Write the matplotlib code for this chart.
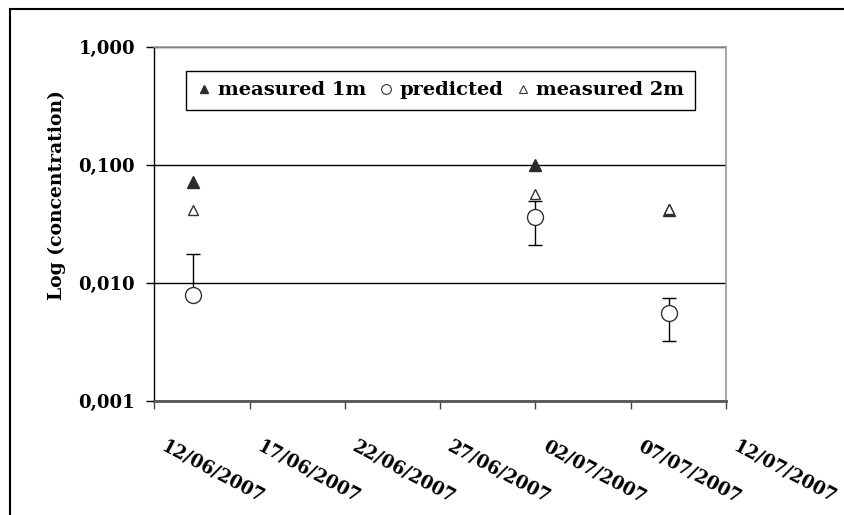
import datetime as dt
import matplotlib
matplotlib.use("Agg")
import matplotlib.pyplot as plt
import matplotlib.transforms as mtrans
from matplotlib.lines import Line2D

# sampling days
dates = [dt.datetime(2007, 6, 14), dt.datetime(2007, 7, 2), dt.datetime(2007, 7, 9)]
measured_1m = [0.071, 0.100, 0.041]
measured_2m = [0.041, 0.056, 0.042]
predicted = [0.0078, 0.036, 0.0055]
pred_upper = [0.0175, 0.049, 0.0074]
pred_lower = [None, 0.021, 0.0032]

tick_dates = [dt.datetime(2007, 6, 12), dt.datetime(2007, 6, 17), dt.datetime(2007, 6, 22),
              dt.datetime(2007, 6, 27), dt.datetime(2007, 7, 2), dt.datetime(2007, 7, 7),
              dt.datetime(2007, 7, 12)]
y_ticks = [0.001, 0.01, 0.1, 1.0]
y_ticklabels = ["0,001", "0,010", "0,100", "1,000"]

font = "DejaVu Serif"

fig = plt.figure(figsize=(8.45, 5.15), dpi=100)
ax = fig.add_axes([0.1828, 0.2223, 0.6762, 0.687])

# error bars for the prediction (first one only has an upper bar)
err_lo = [p - l if l is not None else 0 for p, l in zip(predicted, pred_lower)]
err_hi = [u - p for p, u in zip(predicted, pred_upper)]
ax.errorbar(dates, predicted, yerr=[err_lo, err_hi], fmt="none", ecolor="black",
            elinewidth=1, capsize=5, capthick=1, zorder=3)

ax.plot(dates, measured_1m, linestyle="none", marker="^", ms=8.5, color="#2b2b2b",
        mec="#2b2b2b", zorder=4)
ax.plot(dates, predicted, linestyle="none", marker="o", ms=11.5, mfc="white",
        mec="#333333", mew=1, zorder=5)
ax.plot(dates, measured_2m, linestyle="none", marker="^", ms=7, mfc="white",
        mec="#333333", mew=1, zorder=6)

ax.set_yscale("log")
ax.set_ylim(0.001, 1.0)
ax.set_yticks(y_ticks)
ax.set_yticklabels(y_ticklabels, fontfamily=font, fontweight="bold", fontsize=13)
ax.yaxis.set_minor_locator(matplotlib.ticker.NullLocator())
ax.set_ylabel("Log (concentration)", fontfamily=font, fontweight="bold", fontsize=13.5)
ax.yaxis.set_label_coords(-0.155, 0.581)

ax.set_xlim(tick_dates[0], tick_dates[-1])
ax.set_xticks(tick_dates)
ax.tick_params(axis="x", labelbottom=False)

# slanted date labels below the axis
lbl_trans = mtrans.blended_transform_factory(ax.transData, ax.transAxes) + \
    mtrans.ScaledTranslation(13 / 100, -37 / 100, fig.dpi_scale_trans)
for d in tick_dates:
    ax.text(d, 0, d.strftime("%d/%m/%Y"), transform=lbl_trans, fontfamily=font,
            fontweight="bold", fontsize=13, rotation=-28, rotation_mode="anchor",
            ha="left", va="top", clip_on=False)

ax.tick_params(axis="both", direction="out", length=6, width=1, color="black")
ax.tick_params(axis="x", color="#444444")
ax.tick_params(axis="y", pad=8)

ax.grid(axis="y", which="major", color="black", linewidth=1)
ax.spines["left"].set_color("black")
ax.spines["left"].set_linewidth(1)
ax.spines["bottom"].set_color("#555555")
ax.spines["bottom"].set_linewidth(2)
ax.spines["top"].set_color("#999999")
ax.spines["right"].set_color("#999999")
ax.spines["top"].set_linewidth(1.2)
ax.spines["right"].set_linewidth(1.2)

handles = [
    Line2D([], [], linestyle="none", marker="^", ms=6, color="#2b2b2b"),
    Line2D([], [], linestyle="none", marker="o", ms=7, mfc="white", mec="#333333", mew=0.8),
    Line2D([], [], linestyle="none", marker="^", ms=6, mfc="white", mec="#333333", mew=0.8),
]
leg = ax.legend(handles, ["measured 1m", "predicted", "measured 2m"], ncol=3,
                loc="lower left", bbox_to_anchor=(0.055, 0.821, 0.891, 0.119), mode="expand",
                prop={"family": font, "weight": "bold", "size": 14}, frameon=True,
                fancybox=False, edgecolor="black", framealpha=1, borderpad=0.55,
                handlelength=0.8, handletextpad=0.3, columnspacing=0.5, borderaxespad=0)
leg.get_frame().set_linewidth(1)

# outer frame of the chart area
fig.add_artist(Line2D([10 / 845, 10 / 845], [0, 1 - 9 / 515], transform=fig.transFigure,
                      color="black", linewidth=1.5))
fig.add_artist(Line2D([10 / 845, 1], [1 - 9 / 515, 1 - 9 / 515], transform=fig.transFigure,
                      color="black", linewidth=1.5))

fig.savefig("out.png", dpi=100)
